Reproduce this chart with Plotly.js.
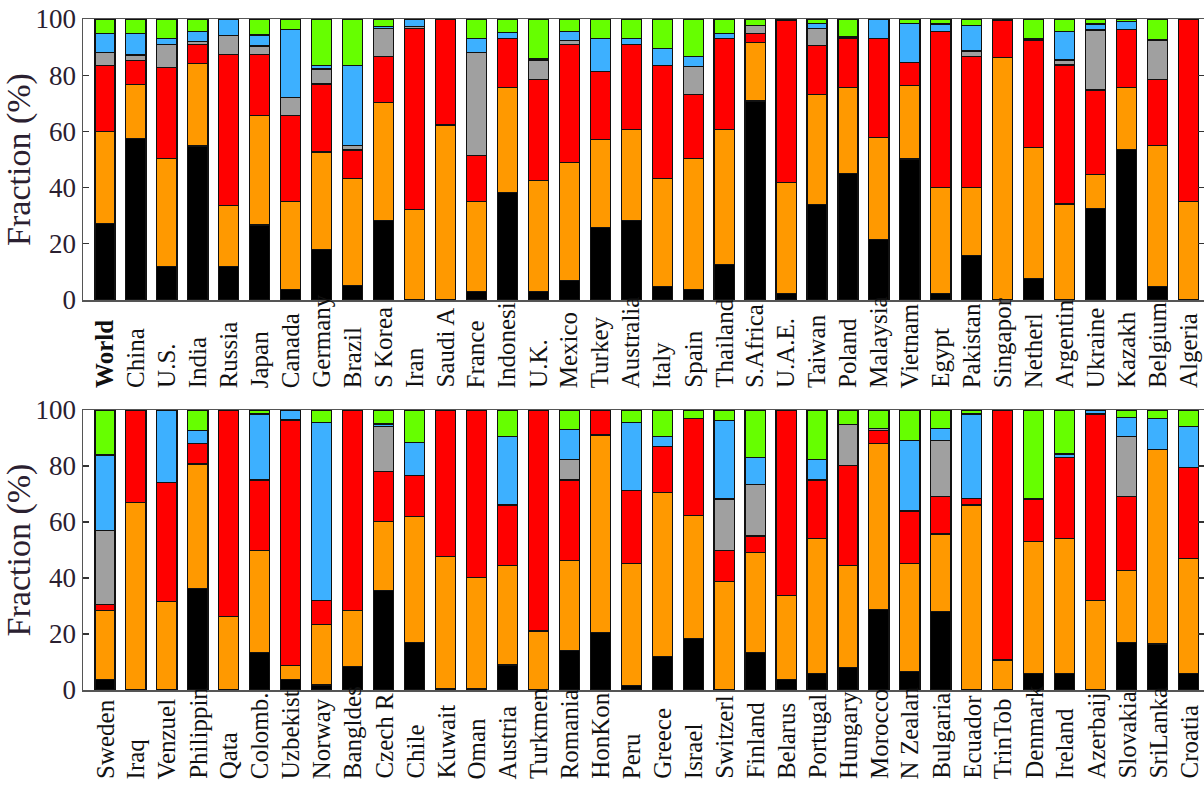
<!DOCTYPE html>
<html>
<head>
<meta charset="utf-8">
<script src="https://cdn.plot.ly/plotly-3.0.1.min.js"></script>
<style>
html,body{margin:0;padding:0;background:#fff;}
#chart{width:1204px;height:791px;}
</style>
</head>
<body>
<div id="chart"></div>
<script>
// ---------- DATA ----------
const topCountries = ["World","China","U.S.","India","Russia","Japan","Canada","Germany","Brazil","S Korea","Iran","Saudi A","France","Indonesi","U.K.","Mexico","Turkey","Australia","Italy","Spain","Thailand","S.Africa","U.A.E.","Taiwan","Poland","Malaysia","Vietnam","Egypt","Pakistan","Singapor","Netherl","Argentin","Ukraine","Kazakh","Belgium","Algeria"];
const topCoal    = [27.3,57.5,11.9,54.8,11.9,26.7,3.8,18.0,5.3,28.2,0.3,0,3.0,38.3,3.0,6.8,25.9,28.2,4.7,3.8,12.7,70.8,2.4,34.0,45.1,21.6,50.2,2.4,15.7,0,7.7,0.3,32.6,53.7,4.7,0.3];
const topOil     = [32.6,19.2,38.5,29.4,21.7,39.1,31.2,34.7,37.8,42.0,32.0,62.3,32.0,37.3,39.6,42.2,31.3,32.5,38.4,46.6,48.0,20.8,39.4,39.2,30.5,36.3,26.0,37.7,24.4,86.4,46.5,33.9,12.1,22.0,50.2,34.8];
const topGas     = [23.5,8.4,32.4,6.8,53.7,21.5,30.8,24.2,10.3,16.4,64.4,37.7,16.4,17.5,35.8,42.0,24.1,30.3,40.4,22.8,32.4,3.1,57.7,17.5,17.5,35.2,8.3,55.4,46.5,13.1,38.3,49.4,30.0,20.6,23.6,64.9];
const topNuclear = [4.7,2.1,8.2,0.9,6.7,3.1,6.3,5.3,1.6,10.1,0.5,0,36.7,0,6.9,1.3,0,0,0,9.8,0,2.9,0,6.0,0,0,0,0,2.0,0,0.5,1.8,21.4,0,14.0,0];
const topHydro   = [6.8,7.5,2.2,3.7,6.0,3.9,24.2,1.3,28.5,0.5,2.8,0,5.1,2.2,0.5,3.2,11.9,2.2,6.1,3.6,1.6,0,0.5,1.8,0.5,6.9,14.0,2.7,9.0,0,0,10.1,2.1,2.8,0,0];
const topRenew   = [5.1,5.3,6.8,4.4,0,5.7,3.7,16.5,16.5,2.8,0,0,6.8,4.7,14.2,4.5,6.8,6.8,10.4,13.4,5.3,2.4,0,1.5,6.4,0,1.5,1.8,2.4,0.5,7.0,4.5,1.8,0.9,7.5,0];

const botCountries = ["Sweden","Iraq","Venzuel","Philippin","Qata","Colomb.","Uzbekist","Norway","Bangldes","Czech R","Chile","Kuwait","Oman","Austria","Turkmen","Romania","HonKon","Peru","Greece","Israel","Switzerl","Finland","Belarus","Portugal","Hungary","Morocco","N Zealan","Bulgaria","Ecuador","TrinTob","Denmark","Ireland","Azerbaij","Slovakia","SriLanka","Croatia"];
const botCoal    = [3.8,0,0,36.3,0,13.5,3.8,1.8,8.3,35.5,17.0,0.6,0.6,8.9,0,14.0,20.6,1.5,11.9,18.5,0,13.5,3.8,6.0,8.0,28.8,6.5,28.0,0,0,6.0,6.0,0,17.0,16.4,6.0];
const botOil     = [24.5,66.9,31.5,44.4,26.2,36.4,4.9,21.7,20.0,24.6,45.1,47.0,39.6,35.7,21.1,32.2,70.5,43.7,58.6,43.8,38.7,35.7,29.9,48.2,36.4,59.3,38.7,27.7,66.1,10.7,47.0,48.2,32.1,25.6,69.6,41.0];
const botGas     = [2.1,33.1,42.7,7.4,73.8,25.1,87.7,8.6,71.7,17.9,14.4,52.4,59.8,21.5,78.9,28.8,8.9,26.0,16.4,34.7,11.1,5.8,66.3,20.8,35.7,4.5,18.7,13.3,2.4,89.3,15.2,28.9,66.5,26.4,0,32.5];
const botNuclear = [26.7,0,0,0,0,0,0,0,0,16.0,0,0,0,0,0,7.4,0,0,0,0,18.4,18.5,0,0,14.8,0.8,0,20.0,0,0,0,0,0,21.5,0,0];
const botHydro   = [26.8,0,25.8,4.5,0,23.6,3.6,63.5,0,1.0,12.0,0,0,24.4,0,10.5,0,24.4,3.6,0,28.0,9.6,0,7.4,0,0,25.1,4.5,30.1,0,0,1.2,1.4,6.9,11.0,14.5];
const botRenew   = [16.1,0,0,7.4,0,1.4,0,4.4,0,5.0,11.5,0,0,9.5,0,7.1,0,4.4,9.5,3.0,3.8,16.9,0,17.6,5.1,6.6,11.0,6.5,1.4,0,31.8,15.7,0,2.6,3.0,6.0];

const sourceColors = ["#000000","#FF9900","#FF0000","#A0A0A0","#3DB0FF","#66FF00"];
const yTickVals = [0,20,40,60,80,100];
const yTitle = "Fraction (%)";

// ---------- BUILD ----------
const FONT = "Liberation Serif, Times New Roman, serif";
function makeTraces(cats, series, xa, ya){
  return series.map((vals,i)=>({
    type:'bar', x:cats, y:vals, xaxis:xa, yaxis:ya,
    width:0.65,
    marker:{color:sourceColors[i], line:{color:'#111', width:1.2}},
    showlegend:false, hoverinfo:'y'
  }));
}
const traces = [
  ...makeTraces(topCountries,[topCoal,topOil,topGas,topNuclear,topHydro,topRenew],'x','y'),
  ...makeTraces(botCountries,[botCoal,botOil,botGas,botNuclear,botHydro,botRenew],'x2','y2')
];

const H = 791, mt = 19, mb = 101, ph = H - mt - mb;
const px2paper = p => (H - mb - p)/ph;

function yAxis(domain, anchor){
  return {
    domain: domain, anchor: anchor, range:[0,100], tickvals:yTickVals,
    ticks:'inside', ticklen:6, tickwidth:1.2, tickcolor:'#333',
    showline:true, linecolor:'#555', linewidth:1.5, mirror:'ticks',
    showgrid:false, zeroline:false,
    tickfont:{family:FONT, size:27, color:'#2a2030'},
    title:{text:yTitle, font:{family:FONT, size:34, color:'#2a2030'}, standoff:4}
  };
}
function xAxis(anchor){
  return {
    anchor: anchor, type:'category', range:[-0.71,35.5],
    showline:true, linecolor:'#555', linewidth:1.5, mirror:true,
    ticks:'', showticklabels:false, showgrid:false, zeroline:false
  };
}

const annotations = [];
topCountries.forEach(c=>{
  annotations.push({xref:'x', yref:'paper', x:c, y:px2paper(390), xanchor:'center', yanchor:'bottom',
    textangle:-90, showarrow:false, text: c==='World' ? '<b>'+c+'</b>' : c,
    font:{family:FONT, size:25, color:'#111'}});
});
botCountries.forEach(c=>{
  annotations.push({xref:'x2', yref:'paper', x:c, y:px2paper(781), xanchor:'center', yanchor:'bottom',
    textangle:-90, showarrow:false, text:c,
    font:{family:FONT, size:25, color:'#111'}});
});

const layout = {
  width:1204, height:H,
  margin:{l:83, r:0, t:mt, b:mb, pad:0},
  paper_bgcolor:'#fff', plot_bgcolor:'#fff',
  barmode:'stack', bargap:0.35,
  xaxis: xAxis('y'),
  yaxis: yAxis([px2paper(300),1],'x'),
  xaxis2: xAxis('y2'),
  yaxis2: yAxis([0,px2paper(410)],'x2'),
  annotations: annotations,
  font:{family:FONT}
};

Plotly.newPlot('chart', traces, layout, {displayModeBar:false, staticPlot:true});
</script>
</body>
</html>
